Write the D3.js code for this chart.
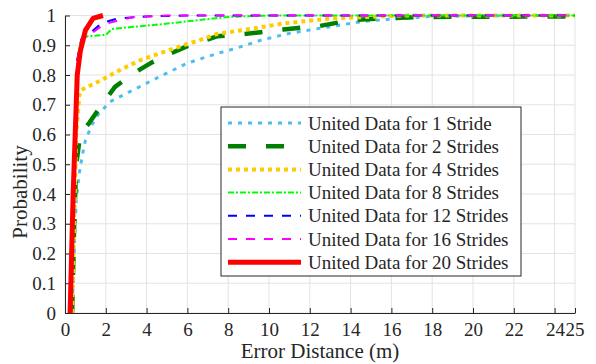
<!DOCTYPE html>
<html><head><meta charset="utf-8">
<script src="https://cdn.jsdelivr.net/npm/d3@7"></script>
<style>body{margin:0;background:#fff}svg{display:block}</style>
</head><body><svg id="c" width="596" height="364"></svg>
<script>
const seriesNames = ["United Data for 1 Stride","United Data for 2 Strides","United Data for 4 Strides","United Data for 8 Strides","United Data for 12 Strides","United Data for 16 Strides","United Data for 20 Strides"];
const xTicks = [0,2,4,6,8,10,12,14,16,18,20,22,24,25];
const yTicks = [0,0.1,0.2,0.3,0.4,0.5,0.6,0.7,0.8,0.9,1];

const s1x = [0.35,0.45,0.55,0.7,0.85,1.0,1.3,1.6,2.2,3.35,4.65,6.0,7.45,8.4,9.6,11,12.5,14.6,16.3,18,22,25];
const s1y = [0,0.2,0.38,0.47,0.53,0.58,0.63,0.665,0.71,0.75,0.795,0.84,0.872,0.89,0.917,0.94,0.957,0.98,0.99,0.997,1,1];
const s2x = [0.35,0.45,0.55,0.75,1.2,1.7,2.45,3.35,4.2,5,6,7.45,9.1,10.7,12.5,14.1,15.6,17.4,25];
const s2y = [0,0.3,0.5,0.6,0.64,0.69,0.76,0.805,0.84,0.867,0.897,0.93,0.94,0.953,0.965,0.985,0.99,0.995,0.997];
const s4x = [0.35,0.45,0.55,0.7,0.8,1.7,2.7,3.7,4.65,5.8,6.6,7.45,9.1,10.7,13,16.6,25];
const s4y = [0,0.3,0.6,0.73,0.75,0.78,0.817,0.85,0.873,0.9,0.917,0.938,0.955,0.973,0.99,1,1];
const s8x = [0.3,0.4,0.5,0.6,0.8,1.1,2.0,2.3,4.65,6.6,8,10,25];
const s8y = [0,0.3,0.6,0.85,0.92,0.93,0.935,0.955,0.97,0.985,0.995,1,1];
const s12x = [0.3,0.4,0.5,0.6,0.8,1.3,1.8,2.6,4,6,25];
const s12y = [0,0.3,0.6,0.85,0.92,0.945,0.975,0.99,0.997,1,1];
const s16x = [0.3,0.4,0.5,0.6,0.8,1.3,1.9,2.7,3.4,5,25];
const s16y = [0,0.3,0.6,0.85,0.92,0.94,0.97,0.985,0.995,1,1];
const s20x = [0.25,0.4,0.5,0.6,0.75,1.0,1.37,1.86];
const s20y = [0,0.4,0.6,0.8,0.88,0.95,0.99,1];

const colors = ["#4dbeee","#008000","#ffcc00","#00ff00","#0000ff","#ff00ff","#ff0000"];
const widths = [3,4.5,4,2,2,2,5];
const dashes = ["4,6","18,20","4,4","6,2,2,2","9,9","9,9",null];
const xs = [s1x,s2x,s4x,s8x,s12x,s16x,s20x];
const ys = [s1y,s2y,s4y,s8y,s12y,s16y,s20y];

const FONT = "Liberation Serif";
const svg = d3.select("#c");
const L=65,R=575,T=15.5,B=313;
const x = d3.scaleLinear().domain([0,25]).range([L,R]);
const y = d3.scaleLinear().domain([0,1]).range([B,T]);

// grid
const g = svg.append("g");
g.selectAll(".gx").data(xTicks).enter().append("line")
 .attr("x1",d=>x(d)).attr("x2",d=>x(d)).attr("y1",T).attr("y2",B).attr("stroke","#e3e3e3").attr("stroke-width",1);
g.selectAll(".gy").data(yTicks).enter().append("line")
 .attr("x1",L).attr("x2",R).attr("y1",d=>y(d)).attr("y2",d=>y(d)).attr("stroke","#e3e3e3").attr("stroke-width",1);

// axes
const xa = svg.append("g").attr("transform",`translate(0,${B})`)
 .call(d3.axisBottom(x).tickValues(xTicks).tickFormat(d=>String(d)).tickSizeInner(-5).tickSizeOuter(0).tickPadding(10));
xa.selectAll("text").filter(d=>d===24).attr("text-anchor","end").attr("x",10);
xa.selectAll("text").filter(d=>d===25).attr("text-anchor","start").attr("x",-10);
const ya = svg.append("g").attr("transform",`translate(${L},0)`)
 .call(d3.axisLeft(y).tickValues(yTicks).tickFormat(d=>d===0?"0":d===1?"1":d3.format(".1f")(d)).tickSizeInner(-5).tickSizeOuter(0).tickPadding(9));
[xa,ya].forEach(a=>{
  a.attr("font-family",FONT).attr("font-size",19);
  a.selectAll("text").attr("fill","#262626").attr("font-family",FONT).attr("font-size",19);
  a.select(".domain").attr("stroke","#262626");
  a.selectAll(".tick line").attr("stroke","#262626");
});

// lines
const line = d3.line().x(d=>x(d[0])).y(d=>y(d[1]));
xs.forEach((xv,i)=>{
  const pts = xv.map((v,j)=>[v,ys[i][j]]);
  svg.append("path").attr("d",line(pts)).attr("fill","none").attr("stroke",colors[i])
   .attr("stroke-width",widths[i]).attr("stroke-dasharray",dashes[i]).attr("stroke-linejoin","round");
});

// legend
const lg = svg.append("g");
lg.append("rect").attr("x",221).attr("y",107).attr("width",300).attr("height",169).attr("fill","#fff").attr("stroke","#262626").attr("stroke-width",1);
seriesNames.forEach((n,i)=>{
  const yy = 123 + i*23.2;
  lg.append("line").attr("x1",228).attr("x2",301).attr("y1",yy).attr("y2",yy).attr("stroke",colors[i])
    .attr("stroke-width",widths[i]).attr("stroke-dasharray",dashes[i]);
  lg.append("text").attr("x",308).attr("y",yy+6.5).attr("font-size",19).attr("font-family",FONT).attr("fill","#262626").text(n);
});

// labels
svg.append("text").attr("x",320).attr("y",358).attr("text-anchor","middle").attr("font-size",21).attr("font-family",FONT).attr("fill","#262626").text("Error Distance (m)");
svg.append("text").attr("transform","translate(27,192) rotate(-90)").attr("text-anchor","middle").attr("font-size",21).attr("font-family",FONT).attr("fill","#262626").text("Probability");
</script></body></html>
